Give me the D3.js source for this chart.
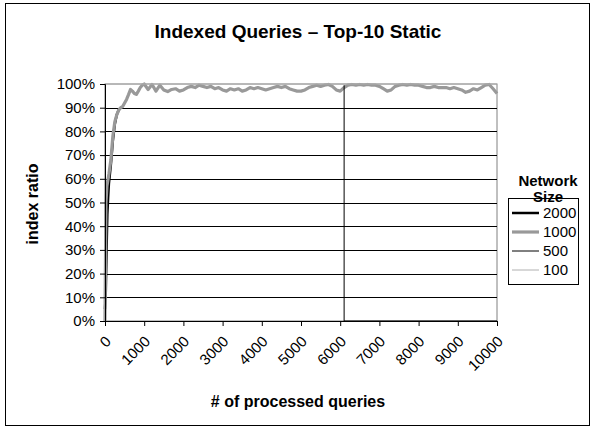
<!DOCTYPE html>
<html>
<head>
<meta charset="utf-8">
<script src="https://cdn.jsdelivr.net/npm/d3@7"></script>
<style>
  body { margin: 0; background: #fff; }
  svg { display: block; font-family: "Liberation Sans", Arial, sans-serif; }
</style>
</head>
<body>
<div id="container"><svg></svg></div>
<script>
let width = 594;
let height = 428;

// network size 2000 (only the start is visible, the rest sits under 1000)
let q2000 = [0, 20, 40, 60, 80, 100, 150, 200, 250, 300, 350, 400];
let r2000 = [5, 12, 30, 45, 52, 58, 66, 76, 83, 87, 89, 90];

// network size 1000
let q1000 = [0, 25, 50, 100, 150, 200, 250, 300, 350, 400, 450, 500, 550, 600, 650, 700,
    750, 800, 850, 900, 950].concat(d3.range(1000, 10001, 100));
let r1000 = [0, 50, 57, 62, 68, 78, 84, 87, 89, 90, 90.5, 92, 93.5, 95.5, 97.7, 97,
    96, 95.6, 97, 98.5, 99.5,
    100, 97.7, 99.8, 97, 99.5, 97.5, 96.8, 97.7, 98, 97,
    97.5, 98.5, 99, 98.5, 99.5, 99, 98.5, 99, 98, 98.5,
    97.5, 97, 98, 97.5, 98, 97, 97.5, 98.5, 98, 98.5,
    98, 97.5, 98, 98.5, 99, 98.5, 99, 98, 97.5, 97,
    97, 97.5, 98.5, 99, 99.5, 99, 99.5, 99.8, 99, 97.5,
    97, 98.5, 99.5, 99.8, 99.5, 99.8, 99.5, 99.8, 99.5, 99.5,
    99, 98, 97, 97.5, 99, 99.5, 99.8, 99.5, 99.8, 99.5,
    99.5, 99, 98.5, 98.5, 99, 98.5, 98.5, 98.5, 98, 98.5,
    98, 97.5, 96.5, 97, 98, 97.5, 98.5, 99.5, 99.8, 98, 96];

// network size 500
let q500 = [6100, 6100, 10000];
let r500 = [99.5, 0, 0];

// network size 100
let q100 = [0, 10, 10000];
let r100 = [0, 100, 100];

let yTicks = d3.range(0, 101, 10);
let xTicks = d3.range(0, 10001, 1000);

let series = [
    {name: "2000", q: q2000, r: r2000, color: "#000000", w: 2.5},
    {name: "1000", q: q1000, r: r1000, color: "#999999", w: 3.2},
    {name: "500", q: q500, r: r500, color: "#000000", w: 1},
    {name: "100", q: q100, r: r100, color: "#b0b0b0", w: 1}
];

let svg = d3.select('#container').select('svg')
    .attr('width', width)
    .attr('height', height);

// chart border
svg.append("rect")
    .attr("x", 5.5).attr("y", 3.5)
    .attr("width", 584).attr("height", 422)
    .attr("fill", "#fff").attr("stroke", "#000");

let x = d3.scaleLinear().domain([0, 10000]).range([105, 497]);
let y = d3.scaleLinear().domain([0, 100]).range([321, 84]);

// plot area border
svg.append("rect")
    .attr("x", x(0)).attr("y", y(100))
    .attr("width", x(10000) - x(0)).attr("height", y(0) - y(100))
    .attr("fill", "none").attr("stroke", "#808080");

// gridlines
svg.append("g")
    .selectAll("line")
    .data(yTicks.slice(1, -1))
    .join("line")
    .attr("x1", x(0)).attr("x2", x(10000))
    .attr("y1", d => Math.round(y(d)) + 0.5)
    .attr("y2", d => Math.round(y(d)) + 0.5)
    .attr("stroke", "#000");

// series
let line = d3.line().x(d => x(d[0])).y(d => y(d[1]));
svg.append("g")
    .selectAll("path")
    .data(series)
    .join("path")
    .attr("d", s => line(s.q.map((v, i) => [v, s.r[i]])))
    .attr("fill", "none")
    .attr("stroke", s => s.color)
    .attr("stroke-width", s => s.w)
    .attr("stroke-linejoin", "round");

// y axis
let yAxis = svg.append("g")
    .attr("transform", `translate(${x(0)},0)`)
    .call(d3.axisLeft(y).tickValues(yTicks).tickSize(5).tickPadding(5).tickFormat(d => d + "%"));
yAxis.select(".domain").attr("stroke", "#000");
yAxis.selectAll("text").attr("font-size", 15).attr("fill", "#000")
    .attr("font-family", "Liberation Sans, Arial, sans-serif");

// x axis
let xAxis = svg.append("g")
    .attr("transform", `translate(0,${y(0)})`)
    .call(d3.axisBottom(x).tickValues(xTicks).tickSize(5).tickFormat(d => d));
xAxis.selectAll("text")
    .attr("font-size", 15).attr("fill", "#000")
    .attr("font-family", "Liberation Sans, Arial, sans-serif")
    .attr("text-anchor", "end")
    .attr("dy", "0.35em")
    .attr("transform", "translate(-3,12) rotate(-45)");

// titles
svg.append("text")
    .attr("x", 298).attr("y", 38)
    .attr("text-anchor", "middle")
    .attr("font-size", 19).attr("font-weight", "bold")
    .text("Indexed Queries \u2013 Top-10 Static");

svg.append("text")
    .attr("x", 298).attr("y", 407)
    .attr("text-anchor", "middle")
    .attr("font-size", 16).attr("font-weight", "bold")
    .text("# of processed queries");

svg.append("text")
    .attr("transform", "translate(38,204) rotate(-90)")
    .attr("text-anchor", "middle")
    .attr("font-size", 16).attr("font-weight", "bold")
    .text("index ratio");

// legend
let lg = svg.append("g");
lg.append("rect")
    .attr("x", 508.5).attr("y", 198.5)
    .attr("width", 70).attr("height", 86)
    .attr("fill", "#fff").attr("stroke", "#000");
lg.append("text")
    .attr("x", 548).attr("y", 186)
    .attr("text-anchor", "middle")
    .attr("font-size", 15).attr("font-weight", "bold")
    .text("Network");
lg.append("text")
    .attr("x", 548).attr("y", 202)
    .attr("text-anchor", "middle")
    .attr("font-size", 15).attr("font-weight", "bold")
    .text("Size");
let item = lg.selectAll("g.item")
    .data(series)
    .join("g")
    .attr("class", "item")
    .attr("transform", (d, i) => `translate(512,${213 + i * 19})`);
item.append("line")
    .attr("x1", 0).attr("x2", 27)
    .attr("stroke", d => d.color)
    .attr("stroke-width", d => d.w);
item.append("text")
    .attr("x", 31).attr("dy", "0.35em")
    .attr("font-size", 15)
    .text(d => d.name);
</script>
</body>
</html>
